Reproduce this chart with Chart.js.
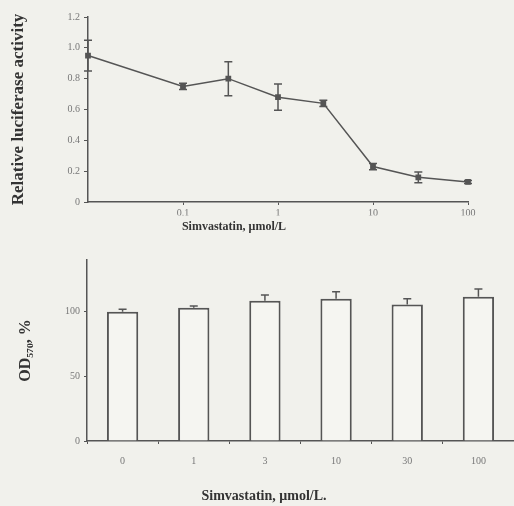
<!DOCTYPE html>
<html>
<head>
<meta charset="utf-8">
<script src="https://cdn.jsdelivr.net/npm/chart.js@4.4.1/dist/chart.umd.min.js"></script>
<style>
  html, body { margin: 0; padding: 0; background: #f1f1ec; overflow: hidden; }
  canvas { position: absolute; left: 0; }
  #topChart { top: 0; }
  #bottomChart { top: 240px; }
</style>
</head>
<body>
<canvas id="topChart" width="514" height="240"></canvas>
<canvas id="bottomChart" width="514" height="266"></canvas>
<script>
// top panel: luciferase activity vs dose (log axis, 0 sits on the axis origin)
const doses = [0, 0.1, 0.3, 1, 3, 10, 30, 100];
const activity = [0.95, 0.75, 0.80, 0.68, 0.64, 0.23, 0.16, 0.13];
const activityErr = [0.10, 0.02, 0.11, 0.085, 0.02, 0.02, 0.035, 0.01];
const doseTicks = [0.1, 1, 10, 100];
const doseTickLabels = ['0.1', '1', '10', '100'];
const activityTickLabels = ['0', '0.2', '0.4', '0.6', '0.8', '1.0', '1.2'];

// bottom panel: OD570 (% of control) per dose
const barDoses = ['0', '1', '3', '10', '30', '100'];
const odValues = [100, 103, 108.5, 110, 105.5, 111.5];
const odErr = [2, 1.5, 4.5, 5.5, 4.5, 6];
const odTicks = [0, 50, 100];

const DOSE_MIN = 0.01;
const LINE = '#555';
const TICK = '#777';
const TEXT = '#333';
const SERIF = '"Liberation Serif", "DejaVu Serif", serif';

// draws error bars from the dataset's own scale
const errorBars = {
    id: 'errorBars',
    afterDatasetsDraw(chart, args, opts) {
        const ctx = chart.ctx;
        const meta = chart.getDatasetMeta(0);
        const yScale = chart.scales.y;
        const data = chart.data.datasets[0].data;
        ctx.save();
        ctx.strokeStyle = LINE;
        ctx.lineWidth = 1.5;
        opts.errors.forEach((e, i) => {
            const el = meta.data[i];
            const val = typeof data[i] === 'object' ? data[i].y : data[i];
            const x = el.x;
            const yHi = yScale.getPixelForValue(val + e);
            const yLo = opts.upOnly ? el.y : yScale.getPixelForValue(val - e);
            ctx.beginPath();
            ctx.moveTo(x, yLo);
            ctx.lineTo(x, yHi);
            ctx.moveTo(x - opts.cap, yHi);
            ctx.lineTo(x + opts.cap, yHi);
            if (!opts.upOnly) {
                ctx.moveTo(x - opts.cap, yLo);
                ctx.lineTo(x + opts.cap, yLo);
            }
            ctx.stroke();
        });
        ctx.restore();
    }
};

const tickFont = { family: SERIF, size: 10 };

new Chart(document.getElementById('topChart'), {
    type: 'line',
    data: {
        datasets: [{
            data: doses.map((d, i) => ({ x: d === 0 ? DOSE_MIN : d, y: activity[i] })),
            borderColor: LINE,
            borderWidth: 1.5,
            pointStyle: 'rect',
            pointRadius: 3,
            pointBackgroundColor: LINE,
            pointBorderColor: LINE,
            tension: 0,
            clip: false
        }]
    },
    options: {
        responsive: false,
        animation: false,
        layout: { padding: { top: 17, right: 46, left: 0, bottom: 0 } },
        plugins: {
            legend: { display: false },
            tooltip: { enabled: false },
            title: {
                display: true,
                position: 'bottom',
                text: 'Simvastatin, μmol/L',
                color: TEXT,
                font: { family: SERIF, size: 12, weight: 'bold' },
                padding: { top: 4, bottom: 6 }
            },
            errorBars: { errors: activityErr, cap: 4, upOnly: false }
        },
        scales: {
            x: {
                type: 'logarithmic',
                min: DOSE_MIN,
                max: 100,
                afterBuildTicks: s => { s.ticks = doseTicks.map(v => ({ value: v })); },
                afterFit: s => { s.height = 13.6; },
                ticks: {
                    callback: (v, i) => doseTickLabels[i],
                    autoSkip: false,
                    maxRotation: 0,
                    padding: 2,
                    color: TICK,
                    font: tickFont
                },
                grid: { drawOnChartArea: false, tickLength: 3, color: LINE },
                border: { color: LINE, width: 1.5 }
            },
            y: {
                min: 0,
                max: 1.2,
                afterFit: s => { s.width = 88; },
                ticks: {
                    stepSize: 0.2,
                    callback: (v, i) => activityTickLabels[i],
                    padding: 4,
                    color: TICK,
                    font: tickFont
                },
                grid: { drawOnChartArea: false, tickLength: 4, color: LINE },
                border: { color: LINE, width: 1.5 },
                title: {
                    display: true,
                    text: 'Relative luciferase activity',
                    color: TEXT,
                    font: { family: SERIF, size: 17, weight: 'bold' },
                    padding: { top: 8, bottom: 0 }
                }
            }
        }
    },
    plugins: [errorBars]
});

new Chart(document.getElementById('bottomChart'), {
    type: 'bar',
    data: {
        labels: barDoses,
        datasets: [{
            data: odValues,
            backgroundColor: '#f5f5f1',
            borderColor: LINE,
            borderWidth: 2,
            barPercentage: 0.44,
            categoryPercentage: 1
        }]
    },
    options: {
        responsive: false,
        animation: false,
        layout: { padding: { top: 20, right: 0, left: 14, bottom: 0 } },
        plugins: {
            legend: { display: false },
            tooltip: { enabled: false },
            title: {
                display: true,
                position: 'bottom',
                text: 'Simvastatin, μmol/L.',
                color: TEXT,
                font: { family: SERIF, size: 14, weight: 'bold' },
                padding: { top: 4, bottom: 1 }
            },
            errorBars: { errors: odErr, cap: 4, upOnly: true }
        },
        scales: {
            x: {
                afterFit: s => { s.height = 43.2; },
                ticks: {
                    maxRotation: 0,
                    padding: 11,
                    color: TICK,
                    font: tickFont
                },
                grid: { drawOnChartArea: false, tickLength: 3, color: LINE },
                border: { color: LINE, width: 1.5 }
            },
            y: {
                min: 0,
                max: 140,
                afterFit: s => { s.width = 73; },
                afterBuildTicks: s => { s.ticks = odTicks.map(v => ({ value: v })); },
                ticks: {
                    padding: 4,
                    color: TICK,
                    font: tickFont
                },
                grid: { drawOnChartArea: false, tickLength: 3, color: LINE },
                border: { color: LINE, width: 1.5 },
                title: {
                    display: true,
                    text: 'OD₅₇₀, %',
                    color: TEXT,
                    font: { family: SERIF, size: 16, weight: 'bold' },
                    padding: { top: 2, bottom: 0 }
                }
            }
        }
    },
    plugins: [errorBars]
});
</script>
</body>
</html>
